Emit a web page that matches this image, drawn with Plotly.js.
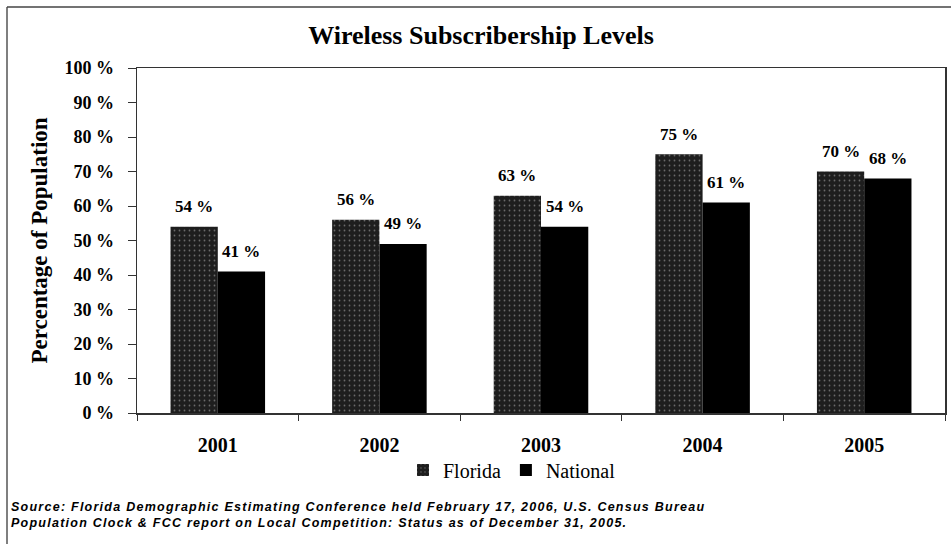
<!DOCTYPE html>
<html>
<head>
<meta charset="utf-8">
<script src="https://cdn.plot.ly/plotly-3.0.1.min.js"></script>
<style>
  html, body { margin: 0; padding: 0; background: #fff; }
  #chart { width: 951px; height: 544px; }
</style>
</head>
<body>
<div id="chart"></div>
<script>
// ---- data ----
const years = ['2001', '2002', '2003', '2004', '2005'];
const florida = [54, 56, 63, 75, 70];
const national = [41, 49, 54, 61, 68];
const seriesNames = ['Florida', 'National'];
const yTickVals = [0, 10, 20, 30, 40, 50, 60, 70, 80, 90, 100];
const yTickText = ['0 %', '10 %', '20 %', '30 %', '40 %', '50 %', '60 %', '70 %', '80 %', '90 %', '100 %'];
const titleText = 'Wireless Subscribership Levels';
const yTitleText = 'Percentage of Population';
const sourceLines = [
  'Source: Florida Demographic Estimating Conference held February 17, 2006, U.S. Census Bureau',
  'Population Clock & FCC report on Local Competition: Status as of December 31, 2005.'
];

// ---- layout constants ----
const W = 951, H = 544;
const M = { l: 137, r: 6, t: 68, b: 131 };
const plotW = W - M.l - M.r, plotH = H - M.t - M.b;
const bargap = 0.415;
const serif = 'Liberation Serif';
const px2x = p => (p - M.l) / plotW;
const py2y = p => (H - M.b - p) / plotH;

const traces = [
  {
    type: 'bar', name: seriesNames[0], x: years, y: florida,
    marker: {
      color: '#1e1e1e',
      line: { width: 0 },
      pattern: { shape: '.', fgcolor: '#6a6a6a', bgcolor: '#1e1e1e', size: 5, solidity: 0.1 }
    },
    hoverinfo: 'x+y'
  },
  {
    type: 'bar', name: seriesNames[1], x: years, y: national,
    marker: { color: '#000000', line: { width: 0 } },
    hoverinfo: 'x+y'
  }
];

// value labels placed via category index positions
const half = (1 - bargap) / 4;
const annotations = [];
[florida, national].forEach((vals, s) => {
  vals.forEach((v, i) => {
    annotations.push({
      x: i + (s === 0 ? -half : half), y: v, xref: 'x', yref: 'y',
      text: v + ' %', showarrow: false, yanchor: 'middle', yshift: 20,
      font: { family: serif, size: 17, color: '#000', weight: 'bold' }
    });
  });
});
sourceLines.forEach((t, i) => {
  annotations.push({
    xref: 'paper', yref: 'paper', x: px2x(9), y: py2y(507 + i * 16),
    xanchor: 'left', yanchor: 'middle', showarrow: false, align: 'left',
    text: '<b><i>' + t + '</i></b>',
    font: { family: 'Liberation Sans', size: 12.5, color: '#000' }
  });
});

const layout = {
  width: W, height: H,
  margin: M,
  font: { family: serif, color: '#000' },
  paper_bgcolor: '#fff', plot_bgcolor: '#fff',
  barmode: 'group', bargap: bargap, bargroupgap: 0,
  showlegend: true,
  title: {
    text: titleText, xref: 'container', yref: 'container',
    x: 481 / W, xanchor: 'center', y: 1 - 35 / H, yanchor: 'middle',
    font: { family: serif, size: 26, color: '#000', weight: 'bold' }
  },
  xaxis: {
    type: 'category', showgrid: false, zeroline: false,
    showline: true, linecolor: '#333', linewidth: 1.5, mirror: true,
    ticks: 'outside', tickson: 'boundaries', ticklen: 6, tickcolor: '#333', tickwidth: 1,
    ticklabelstandoff: 13,
    tickfont: { family: serif, size: 20, color: '#000', weight: 'bold' }
  },
  yaxis: {
    range: [0, 100], showgrid: false, zeroline: false,
    showline: true, linecolor: '#333', linewidth: 1.5, mirror: true,
    tickvals: yTickVals, ticktext: yTickText,
    ticks: 'outside', ticklen: 8, tickcolor: '#333', tickwidth: 1,
    ticklabelstandoff: 10,
    tickfont: { family: serif, size: 18, color: '#000', weight: 'bold' },
    title: { text: yTitleText, standoff: 10, font: { family: serif, size: 23, color: '#000', weight: 'bold' } }
  },
  legend: {
    orientation: 'h', x: px2x(403), xanchor: 'left', y: py2y(470), yanchor: 'middle',
    font: { family: serif, size: 20, color: '#000', weight: 'normal' },
    itemwidth: 30, tracegroupgap: 0, bgcolor: 'rgba(0,0,0,0)'
  },
  annotations: annotations,
  shapes: [
    { type: 'line', xref: 'paper', yref: 'paper', x0: px2x(7), x1: px2x(7), y0: py2y(7), y1: py2y(H + 2),
      line: { color: '#555', width: 1.5 } },
    { type: 'line', xref: 'paper', yref: 'paper', x0: px2x(7), x1: px2x(W + 2), y0: py2y(7), y1: py2y(7),
      line: { color: '#444', width: 1.5 } }
  ]
};

Plotly.newPlot('chart', traces, layout, { displayModeBar: false, staticPlot: true }).then(() => {
  document.querySelectorAll('.annotation-text').forEach(el => {
    const t = el.textContent;
    if (t.indexOf('Source') === 0 || t.indexOf('Population Clock') === 0) {
      el.style.letterSpacing = '1.25px';
    }
  });
  document.querySelectorAll('.legendtext').forEach(el => {
    el.style.fontFamily = "'Liberation Serif', 'Times New Roman', serif";
  });
});
</script>
</body>
</html>
